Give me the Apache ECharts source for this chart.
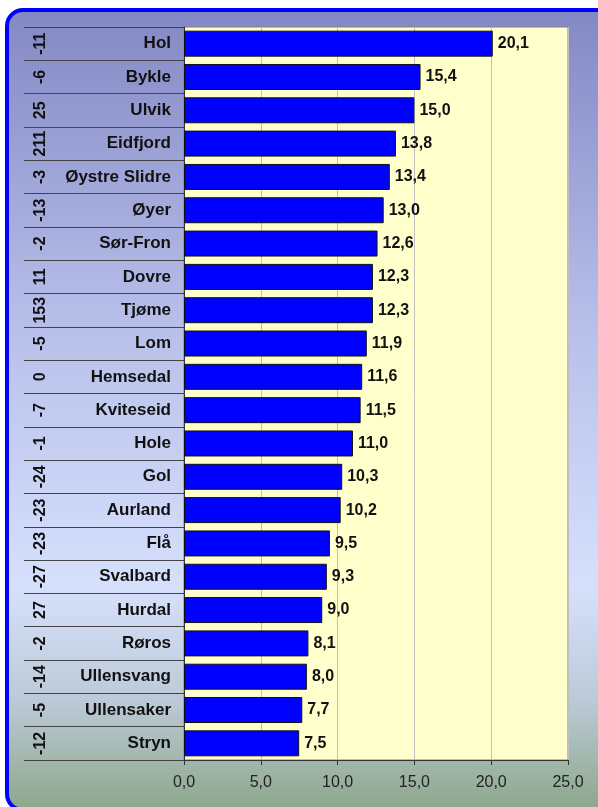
<!DOCTYPE html>
<html>
<head>
<meta charset="utf-8">
<script src="https://cdn.jsdelivr.net/npm/echarts@6/dist/echarts.min.js"></script>
<style>
  html, body { margin: 0; padding: 0; background: #fff; }
  #chart { width: 598px; height: 807px; }
</style>
</head>
<body>
<div id="chart"></div>
<script>
// kommuner, sortert etter verdi
const names = ['Hol', 'Bykle', 'Ulvik', 'Eidfjord', 'Øystre Slidre', 'Øyer', 'Sør-Fron', 'Dovre', 'Tjøme', 'Lom', 'Hemsedal',
  'Kviteseid', 'Hole', 'Gol', 'Aurland', 'Flå', 'Svalbard', 'Hurdal', 'Røros', 'Ullensvang', 'Ullensaker', 'Stryn'];
const values = [20.1, 15.4, 15.0, 13.8, 13.4, 13.0, 12.6, 12.3, 12.3, 11.9, 11.6,
  11.5, 11.0, 10.3, 10.2, 9.5, 9.3, 9.0, 8.1, 8.0, 7.7, 7.5];
// tallene i venstre kolonne
const changes = [-11, -6, 25, 211, -3, -13, -2, 11, 153, -5, 0,
  -7, -1, -24, -23, -23, -27, 27, -2, -14, -5, -12];
const xTicks = [0, 5, 10, 15, 20, 25];

const comma = v => v.toFixed(1).replace('.', ',');

const chart = echarts.init(document.getElementById('chart'));
const option = {
  animation: false,
  textStyle: { fontFamily: 'Arial, "Liberation Sans", sans-serif' },
  graphic: [
    {
      type: 'rect',
      z: -100,
      shape: { x: 7, y: 10, width: 620, height: 800, r: 16 },
      style: {
        fill: {
          type: 'linear', x: 0, y: 0, x2: 0, y2: 1,
          colorStops: [
            { offset: 0, color: '#8388c4' },
            { offset: 0.4, color: '#b8c0ea' },
            { offset: 0.72, color: '#d6e0fc' },
            { offset: 0.86, color: '#bccad8' },
            { offset: 1, color: '#8ca688' }
          ]
        },
        stroke: '#0000ff',
        lineWidth: 4
      }
    }
  ],
  grid: {
    left: 184,
    right: 30,
    top: 27,
    bottom: 47,
    show: true,
    backgroundColor: '#ffffcc',
    borderColor: '#808080',
    borderWidth: 1
  },
  xAxis: {
    type: 'value',
    min: xTicks[0],
    max: xTicks[xTicks.length - 1],
    interval: 5,
    axisLine: { show: true, lineStyle: { color: '#333', width: 1 } },
    axisTick: { show: true, length: 5, lineStyle: { color: '#333' } },
    splitLine: { show: true, lineStyle: { color: '#c0c0c0', width: 1 } },
    axisLabel: {
      formatter: v => comma(v),
      fontSize: 16,
      color: '#222',
      margin: 15
    }
  },
  yAxis: [
    {
      type: 'category',
      inverse: true,
      data: names,
      axisLine: { show: true, lineStyle: { color: '#333', width: 1 } },
      axisTick: { show: true, interval: 0, length: 160, lineStyle: { color: '#444', width: 1 } },
      axisLabel: {
        interval: 0,
        fontSize: 17,
        fontWeight: 'bold',
        color: '#111',
        margin: 13
      }
    },
    {
      type: 'category',
      inverse: true,
      position: 'left',
      data: names,
      axisLine: { show: false },
      axisTick: { show: false },
      axisLabel: {
        interval: 0,
        hideOverlap: false,
        rotate: 90,
        fontSize: 16,
        fontWeight: 'bold',
        color: '#111',
        margin: 135,
        formatter: (v, i) => String(changes[i])
      }
    }
  ],
  series: [
    {
      type: 'bar',
      data: values,
      barCategoryGap: '22%',
      itemStyle: { color: '#0000ff', borderColor: '#111', borderWidth: 1 },
      label: {
        show: true,
        position: 'right',
        distance: 5,
        fontSize: 16,
        fontWeight: 'bold',
        color: '#111',
        formatter: p => comma(p.value)
      }
    }
  ]
};
chart.setOption(option);
</script>
</body>
</html>
